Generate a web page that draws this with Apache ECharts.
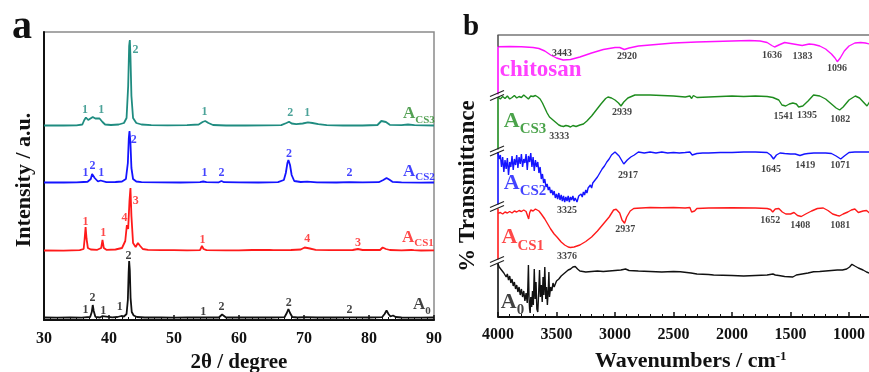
<!DOCTYPE html>
<html>
<head>
<meta charset="utf-8">
<script src="https://cdn.jsdelivr.net/npm/echarts/dist/echarts.min.js"></script>
<style>html,body{margin:0;padding:0;background:#fff}#chart{width:869px;height:372px}</style>
</head>
<body>
<div id="chart"></div>
<script>
// ---- panel a: XRD, [2theta, height above the trace's own baseline]
const xrdA0 = [[30,0.5],[32,0.3],[34,0.5],[35.8,0.4],[36.2,0.6],[36.35,2.5],[36.5,0.8],[37.1,1],[37.35,6],[37.5,13],[37.65,7],[37.9,1.2],[38.6,0.5],[38.95,1.8],[39.2,0.5],[40.5,0.6],[41.3,1],[41.6,3],[41.9,2],[42.3,1.5],[42.7,4],[42.9,18],[43.02,45],[43.1,57],[43.2,48],[43.32,20],[43.5,6],[43.8,2.5],[44.3,1],[45.5,0.5],[48,0.6],[50,0.4],[52,0.5],[54.3,0.5],[54.5,1.3],[54.7,0.5],[56.9,0.5],[57.2,2],[57.4,3.5],[57.6,1.5],[58,0.5],[60,0.5],[62.5,0.6],[65,0.5],[67,0.8],[67.35,5],[67.6,9],[67.85,5],[68.2,1],[69,0.5],[70.3,0.8],[72,0.5],[75,0.5],[76.9,0.6],[77.15,1.8],[77.4,0.6],[80,0.5],[82,0.8],[82.4,4],[82.7,7.5],[83,4],[83.3,1.5],[83.7,2.5],[84.1,1],[85,0.5],[88,0.4],[90,0.5]];
const xrdACS1 = [[30,0.5],[33,0.3],[35.5,0.8],[36.1,2],[36.25,12],[36.4,24],[36.55,12],[36.75,3],[37.2,1.5],[38.2,1.2],[38.8,3],[39.0,11],[39.2,3],[39.6,1.2],[41,1.5],[42,3],[42.5,10],[42.75,26],[42.95,22],[43.15,50],[43.3,63],[43.45,35],[43.7,8],[44.1,4],[44.45,8],[44.6,9],[44.8,5],[45.2,2],[46,1.2],[48,0.8],[50,0.8],[52,0.6],[54.0,0.8],[54.3,5],[54.4,6],[54.55,2],[55,0.8],[58,0.6],[60,0.7],[62,1],[62.3,1.6],[62.6,1],[64.7,1],[65,2],[65.3,0.9],[68,1],[69.5,1.5],[70.1,3.5],[70.4,4],[70.9,2.5],[71.8,1.2],[74,0.8],[77.5,1],[78.3,2],[79,1],[81.7,1],[82.1,3.5],[82.3,4],[82.6,2],[83.2,1],[85,0.7],[86.5,1],[86.7,1.8],[86.9,0.8],[88,0.5],[90,0.6]];
const xrdACS2 = [[30,0.5],[33,0.5],[35,0.6],[36.1,1],[36.4,3],[36.7,1.2],[37.2,4],[37.4,9],[37.55,10],[37.8,5],[38.3,1.5],[38.7,2.5],[39,1.5],[39.6,0.8],[41,1],[42,1.5],[42.6,4],[42.9,20],[43.05,45],[43.15,52],[43.3,40],[43.45,15],[43.7,4],[44.2,1.5],[45,0.8],[48,0.6],[51,0.5],[54,0.8],[54.5,1.5],[55,0.8],[56.9,0.7],[57.3,2],[57.7,0.8],[60,0.6],[63,0.5],[66,0.8],[66.9,3],[67.2,10],[67.45,20],[67.6,23],[67.85,18],[68.1,8],[68.5,2],[69.5,1],[70.5,1.3],[72,0.6],[75,0.5],[77,0.9],[79,0.6],[81.5,0.8],[82.2,3],[82.7,5],[83.1,3.5],[83.6,1.2],[85,0.6],[88,0.4],[90,0.5]];
const xrdACS3 = [[30,0.5],[33,0.5],[35,0.7],[35.9,1.5],[36.2,6],[36.45,8.5],[36.8,6],[37.1,7],[37.5,9],[37.9,7.5],[38.2,6],[38.55,7.5],[38.75,8],[39.0,4],[39.4,1.5],[40.3,1],[41.5,1.5],[42.3,3],[42.7,8],[42.95,40],[43.1,80],[43.2,86],[43.3,70],[43.45,30],[43.7,8],[44.2,3],[45,1.5],[46.5,0.8],[49,0.6],[52,0.8],[53.8,1.5],[54.4,4],[54.8,5],[55.3,3],[56,1],[58,0.5],[61,0.5],[64,0.6],[66.5,0.8],[67.3,3],[67.7,4.3],[68.1,2.5],[68.8,1.8],[69.8,2.5],[70.6,3.7],[71.3,3],[72.2,1.8],[73.5,0.9],[76,0.5],[79,0.5],[81.3,1],[81.9,5],[82.2,6.7],[82.6,4],[83.2,1.2],[85,0.8],[86,1.5],[87,0.8],[90,0.5]];
const xrdOffsets = [2, 69, 137, 194]; // A0, ACS1, ACS2, ACS3

// peak index labels [2theta, y, text]
const peaksA0 = [[36.4,10,'1'],[37.45,22,'2'],[39.1,9,'1'],[41.65,13,'1'],[43.0,64,'2'],[54.5,8,'1'],[57.3,13,'2'],[67.65,17,'2'],[77.0,10,'2']];
const peaksACS1 = [[36.4,98,'1'],[39.1,87,'1'],[42.4,102,'4'],[44.1,119,'3'],[54.4,80,'1'],[70.5,81,'4'],[78.3,77,'3']];
const peaksACS2 = [[36.4,147,'1'],[37.45,154,'2'],[38.8,147,'1'],[43.8,180,'2'],[54.7,147,'1'],[57.3,147,'2'],[67.7,166,'2'],[77.0,147,'2']];
const peaksACS3 = [[36.3,210,'1'],[38.8,210,'1'],[44.06,270,'2'],[54.7,208,'1'],[67.9,207,'2'],[70.5,207,'1']];

// ---- panel b: FTIR, [wavenumber, stacked transmittance]
const irChitosan = [[4000,270.3],[3900,270.5],[3800,270.2],[3700,269.5],[3650,268.5],[3600,266],[3550,262],[3500,259],[3443,257],[3380,257.5],[3300,260],[3200,264],[3100,267.5],[3000,269.5],[2960,269.5],[2920,267.5],[2880,269],[2800,271],[2650,272.5],[2500,274],[2300,275],[2000,276],[1850,276.5],[1760,276],[1700,274.5],[1660,271.5],[1636,270],[1600,272],[1550,274.5],[1500,273.5],[1450,272.5],[1400,271.5],[1383,272],[1340,273],[1300,272.5],[1250,271],[1200,268],[1150,263],[1120,259],[1100,255.3],[1075,259],[1040,266],[1000,271],[950,274],[900,274.5],[860,274],[825,273],[800,273]];
const irACS3 = [[4000,220],[3980,218],[3960,220.5],[3940,218.5],[3920,221],[3900,218],[3880,219.5],[3860,221.5],[3840,219],[3820,220.5],[3800,219.5],[3780,222],[3760,220],[3740,218],[3720,221],[3700,220.5],[3680,221.5],[3660,220],[3640,218],[3620,214],[3600,209],[3580,204],[3560,200],[3540,198],[3520,196],[3500,194],[3480,192],[3460,191],[3440,190.5],[3420,191.5],[3400,191],[3380,190],[3360,191.5],[3333,190.5],[3300,192],[3270,193],[3240,196],[3200,201],[3160,207],[3120,213],[3080,218.5],[3060,220],[3030,219],[3000,217],[2970,214],[2949,211],[2925,215],[2890,219],[2850,221],[2830,222],[2700,222],[2600,221.5],[2500,221],[2400,220],[2360,221],[2345,218.5],[2330,221.5],[2300,219.5],[2200,220],[2100,220.5],[2000,221],[1900,220.5],[1800,221],[1700,220.5],[1650,219.5],[1600,217],[1573,212],[1541,211],[1510,213],[1480,214],[1450,213],[1430,210],[1395,211],[1350,216],[1303,222],[1250,221],[1200,218],[1150,213],[1110,209],[1080,207],[1050,210],[1000,217],[946,221],[910,219],[870,214],[846,211],[825,215],[800,218]];
const irACS2 = [[4000,164],[3990,158],[3980,162],[3970,150],[3960,160],[3950,145],[3940,157],[3930,148],[3920,159],[3910,142],[3900,155],[3890,150],[3880,161],[3870,147],[3860,158],[3850,152],[3840,162],[3830,149],[3820,160],[3810,153],[3800,163],[3790,150],[3780,158],[3770,154],[3760,163],[3750,147],[3740,161],[3730,155],[3720,164],[3710,150],[3700,160],[3690,146],[3680,157],[3670,150],[3660,155],[3650,144],[3640,150],[3630,138],[3620,143],[3610,134],[3600,138],[3590,130],[3580,133],[3570,127],[3560,130],[3550,124],[3540,127],[3530,122],[3520,126],[3510,119],[3500,123],[3490,118],[3480,124],[3470,117],[3460,122],[3450,116],[3440,121],[3430,115],[3420,120],[3410,116],[3400,121],[3390,115],[3380,120],[3370,117],[3360,121],[3350,116],[3340,119],[3325,115],[3310,121],[3300,119],[3290,123],[3280,120],[3270,125],[3260,122],[3250,127],[3240,124],[3230,129],[3220,127],[3210,132],[3200,129],[3190,134],[3180,132],[3170,137],[3160,135],[3150,140],[3140,139],[3130,144],[3120,143],[3110,148],[3100,147],[3090,151],[3080,150],[3070,155],[3060,154],[3050,158],[3040,158],[3030,162],[3020,162],[3000,165],[2985,164],[2965,161],[2945,157],[2925,153],[2910,154],[2895,157],[2880,156],[2865,160],[2850,158],[2835,162],[2820,161],[2800,165],[2750,164],[2700,165],[2650,164],[2600,165],[2550,164],[2500,164.5],[2450,164],[2400,164.5],[2360,165],[2350,167],[2340,162],[2325,163],[2300,163.5],[2250,164],[2200,164],[2100,164.5],[2000,164.5],[1900,165],[1800,165],[1700,164.5],[1670,162],[1645,158],[1620,162],[1590,164],[1550,163.5],[1500,163],[1460,163],[1419,161.5],[1380,163],[1350,163.5],[1300,164],[1250,164],[1200,164],[1150,163.5],[1110,161],[1071,158],[1040,161],[1000,164.5],[950,165],[900,165],[850,165],[800,165]];
const irACS1 = [[4000,103.7],[3980,104.5],[3960,103],[3940,105],[3920,104],[3900,105.5],[3880,104],[3860,106],[3840,105],[3820,106.5],[3800,105.5],[3780,107],[3760,105.5],[3745,107],[3738,98],[3730,104],[3720,107],[3700,106],[3680,108],[3667,107.7],[3650,106],[3630,103],[3600,98],[3580,94],[3550,88],[3520,83],[3496,80],[3460,75],[3430,72],[3400,70],[3382,69.5],[3350,70],[3300,72],[3250,75.5],[3200,80],[3150,86],[3100,93],[3050,100],[3012,107],[2990,107.7],[2960,104],[2940,97],[2918,93.7],[2900,100],[2870,106],[2840,108.5],[2812,108.7],[2700,109.5],[2600,109.3],[2500,109.5],[2400,109],[2360,109.5],[2345,105],[2320,106],[2300,108.5],[2200,109],[2000,109.3],[1800,109],[1700,108.5],[1670,107.5],[1652,105],[1630,108],[1600,108.5],[1570,105],[1540,103],[1500,103],[1470,104.5],[1440,101.5],[1408,100.5],[1370,103],[1320,106],[1270,108.5],[1220,109],[1180,106.5],[1140,103],[1100,101.5],[1081,101],[1050,103],[1010,105],[980,107],[950,108],[920,104.5],[880,106],[850,106.5],[825,104],[800,105]];
const irA0 = [[4000,53],[3990,50],[3980,52],[3970,47],[3960,49],[3950,44],[3940,46],[3930,40],[3920,43],[3910,37],[3900,41],[3890,34],[3880,38],[3870,31],[3860,35],[3850,28],[3840,32],[3830,25],[3820,30],[3810,22],[3800,28],[3790,20],[3780,26],[3770,16],[3760,24],[3750,14],[3745,30],[3740,52],[3735,20],[3730,8],[3725,4],[3720,20],[3712,10],[3705,26],[3698,12],[3690,48],[3683,18],[3675,35],[3668,8],[3660,5],[3652,25],[3645,47],[3638,20],[3630,32],[3622,15],[3615,40],[3608,22],[3600,50],[3592,18],[3585,30],[3578,12],[3570,28],[3565,45],[3560,20],[3550,30],[3540,26],[3530,34],[3520,30],[3500,36],[3480,38],[3460,41],[3440,43],[3420,45],[3400,47],[3380,48],[3360,50],[3340,50.5],[3320,48],[3300,46],[3250,45],[3200,45.5],[3150,46],[3100,45.5],[3050,46],[3000,46.5],[2950,47],[2910,48],[2880,46.5],[2800,46],[2700,45.5],[2600,45],[2500,45.5],[2442,45.3],[2350,44],[2300,43],[2200,42.5],[2157,42],[2000,41.5],[1900,41],[1800,41.5],[1700,42],[1650,43],[1640,45],[1630,42],[1600,41.5],[1550,40.5],[1480,40],[1450,42],[1400,43],[1350,44],[1303,45.3],[1250,45.5],[1200,46],[1150,46.5],[1100,47],[1056,47],[1020,48],[995,50],[975,52.7],[950,51],[920,49],[880,47],[850,45],[825,43.7],[800,44]];

// band position labels [wavenumber, y, text]
const bandsChitosan = [[3453,263.7,'3443'],[2897,260.3,'2920'],[1658,262,'1636'],[1397,260.3,'1383'],[1103,248.7,'1096']];
const bandsACS3 = [[3476,181,'3333'],[2940,204.7,'2939'],[1559,200.3,'1541'],[1359,202,'1395'],[1074,198,'1082']];
const bandsACS2 = [[3410,106.3,'3325'],[2889,142,'2917'],[1667,147.7,'1645'],[1374,152,'1419'],[1074,151.3,'1071']];
const bandsACS1 = [[3410,61,'3376'],[2912,87.7,'2937'],[1673,97,'1652'],[1416,91.3,'1408'],[1074,91.7,'1081']];

// sample names: [x, y, main, subscript]
const namesA = [[86.7,13,'A','0'],[85.0,80.5,'A','CS1'],[85.14,146.5,'A','CS2'],[85.14,204,'A','CS3']];
const namesB = [[3980,12.5,'A','0'],[3974,77,'A','CS1'],[3955,131.5,'A','CS2'],[3955,193.5,'A','CS3'],[3989,244.5,'chitosan','']];

// left axis of panel b is drawn as pieces, one per trace: [from, to]
const irAxisPieces = [[54,0],[108.5,57.5],[165,112.5],[220,167.5],[270.3,222.5],[282,270.3]];
const irBreaks = [55.5, 110.5, 166, 221.5];

const serif = '"Liberation Serif", "Times New Roman", serif';
const colA = ['#111111', '#ff1a1a', '#1414ff', '#1f8c80'];
const colB = ['#111111', '#ff1a1a', '#1414ff', '#1e8c1e', '#ff10ff'];
const nameColA = ['#111111', '#ff1a1a', '#1414ff', '#2a8a2a'];

function lineSeries(data, offset, color, idx, width) {
  return {
    type: 'line', xAxisIndex: idx, yAxisIndex: idx,
    data: data.map(p => [p[0], p[1] + offset]),
    symbol: 'none', showSymbol: false, animation: false,
    lineStyle: { color: color, width: width }, itemStyle: { color: color }, z: 3
  };
}

function textSeries(data, color, idx, size) {
  return {
    type: 'scatter', xAxisIndex: idx, yAxisIndex: idx, silent: true, animation: false,
    symbolSize: 1, itemStyle: { color: 'rgba(0,0,0,0)' }, z: 5,
    data: data,
    label: {
      show: true, position: 'inside', formatter: p => p.data[2],
      color: color, fontFamily: serif, fontWeight: 'bold', fontSize: size
    }
  };
}

function nameSeries(item, color, idx, big, small) {
  return {
    type: 'scatter', xAxisIndex: idx, yAxisIndex: idx, silent: true, animation: false,
    symbolSize: 1, itemStyle: { color: 'rgba(0,0,0,0)' }, z: 6,
    data: [[item[0], item[1]]],
    label: {
      show: true, position: 'right', distance: 0,
      formatter: item[3] ? '{a|' + item[2] + '}{s|' + item[3] + '}' : '{a|' + item[2] + '}',
      rich: {
        a: { fontFamily: serif, fontWeight: 'bold', fontSize: big, color: color, lineHeight: big + 4, verticalAlign: 'top' },
        s: { fontFamily: serif, fontWeight: 'bold', fontSize: small, color: color, padding: [Math.round(big * 0.55), 0, 0, 0], verticalAlign: 'top' }
      }
    }
  };
}

const series = [];
[xrdA0, xrdACS1, xrdACS2, xrdACS3].forEach((d, i) => series.push(lineSeries(d, xrdOffsets[i], colA[i], 0, 1.8)));
[peaksA0, peaksACS1, peaksACS2, peaksACS3].forEach((d, i) => series.push(textSeries(d, colA[i], 0, 12)));
namesA.forEach((n, i) => series.push(nameSeries(n, nameColA[i], 0, 17, 11)));

[irA0, irACS1, irACS2, irACS3, irChitosan].forEach((d, i) => series.push(lineSeries(d, 0, colB[i], 1, 1.4)));
[bandsACS1, bandsACS2, bandsACS3, bandsChitosan].forEach(d => series.push(textSeries(d, '#111111', 1, 10)));
namesB.forEach((n, i) => series.push(nameSeries(n, colB[i], 1, n[3] ? 22 : 23, 15)));

// coloured pieces of the left axis in panel b
series.push({
  type: 'line', xAxisIndex: 1, yAxisIndex: 1, data: [], animation: false,
  markLine: {
    silent: true, symbol: 'none', animation: false, label: { show: false },
    data: irAxisPieces.map((p, i) => [
      { coord: [4000, p[0]], lineStyle: { color: i === 5 ? '#555' : colB[i], width: 1.6, type: 'solid' } },
      { coord: [4000, p[1]] }
    ])
  }
});

const option = {
  backgroundColor: '#fff',
  animation: false,
  grid: [
    { left: 44, top: 32, width: 390, height: 288, show: true, borderColor: '#8a8a8a', borderWidth: 1.5, outerBoundsMode: 'none' },
    // wavenumber 500 lies past the right edge of the picture, as in the cropped original
    { left: 498, top: 35, width: 409.5, height: 282, outerBoundsMode: 'none' }
  ],
  xAxis: [
    {
      gridIndex: 0, type: 'value', min: 30, max: 90, interval: 10,
      axisLine: { lineStyle: { color: '#111', width: 2 } },
      axisTick: { inside: true, length: 5, lineStyle: { color: '#111', width: 1.5 } },
      minorTick: { show: true, splitNumber: 10, length: 3, lineStyle: { color: '#111', width: 1 } },
      axisLabel: { color: '#111', fontFamily: serif, fontWeight: 'bold', fontSize: 16, margin: 11 },
      splitLine: { show: false },
      name: '2θ / degree', nameLocation: 'middle', nameGap: 30,
      nameTextStyle: { color: '#111', fontFamily: serif, fontWeight: 'bold', fontSize: 21 }
    },
    {
      gridIndex: 1, type: 'value', min: 500, max: 4000, interval: 500, inverse: true,
      axisLine: { lineStyle: { color: '#111', width: 2 } },
      axisTick: { inside: true, length: 5, lineStyle: { color: '#111', width: 1.5 } },
      minorTick: { show: true, splitNumber: 5, length: 3, lineStyle: { color: '#111', width: 1 } },
      axisLabel: { color: '#111', fontFamily: serif, fontWeight: 'bold', fontSize: 16, margin: 10, formatter: v => String(v) },
      splitLine: { show: false },
      name: 'Wavenumbers / cm{sup|-1}', nameLocation: 'middle', nameGap: 33,
      nameTextStyle: {
        color: '#111', fontFamily: serif, fontWeight: 'bold', fontSize: 22, padding: [0, 24, 0, 0],
        rich: { sup: { fontFamily: serif, fontWeight: 'bold', fontSize: 13, color: '#111', padding: [0, 0, 10, 0] } }
      }
    },
    {
      gridIndex: 1, type: 'value', min: 500, max: 4000, inverse: true, position: 'top',
      axisLine: { lineStyle: { color: '#777', width: 1.5 } },
      axisTick: { show: false }, axisLabel: { show: false }, splitLine: { show: false }
    }
  ],
  yAxis: [
    {
      gridIndex: 0, type: 'value', min: 0, max: 288,
      axisLine: { show: true, lineStyle: { color: '#111', width: 2 } },
      axisTick: { show: false }, axisLabel: { show: false }, splitLine: { show: false },
      name: 'Intensity / a.u.', nameLocation: 'middle', nameGap: 9,
      nameTextStyle: { color: '#111', fontFamily: serif, fontWeight: 'bold', fontSize: 22, padding: [0, 8, 0, 0] }
    },
    {
      gridIndex: 1, type: 'value', min: 0, max: 282,
      axisLine: { show: false }, axisTick: { show: false }, axisLabel: { show: false }, splitLine: { show: false },
      name: '% Transmittance', nameLocation: 'middle', nameGap: 18,
      nameTextStyle: { color: '#111', fontFamily: serif, fontWeight: 'bold', fontSize: 23, padding: [0, 20, 0, 0] }
    }
  ],
  graphic: [
    { type: 'text', left: 12, top: 8, style: { text: 'a', font: 'bold 40px ' + serif, fill: '#111' } },
    { type: 'text', left: 463, top: 13, style: { text: 'b', font: 'bold 29px ' + serif, fill: '#111' } }
  ],
  series: series
};

const chart = echarts.init(document.getElementById('chart'), null, { renderer: 'canvas' });
chart.setOption(option);

// axis break marks "//" on the left axis of panel b
const breakMarks = [];
irBreaks.forEach(v => {
  const p = chart.convertToPixel({ gridIndex: 1 }, [4000, v]);
  [-2, 2].forEach(d => {
    breakMarks.push({
      type: 'line', silent: true, z: 10,
      shape: { x1: p[0] - 8, y1: p[1] + d + 3, x2: p[0] + 6, y2: p[1] + d - 3 },
      style: { stroke: '#222', lineWidth: 1.2 }
    });
  });
});
chart.setOption({ graphic: option.graphic.concat(breakMarks) });
</script>
</body>
</html>
